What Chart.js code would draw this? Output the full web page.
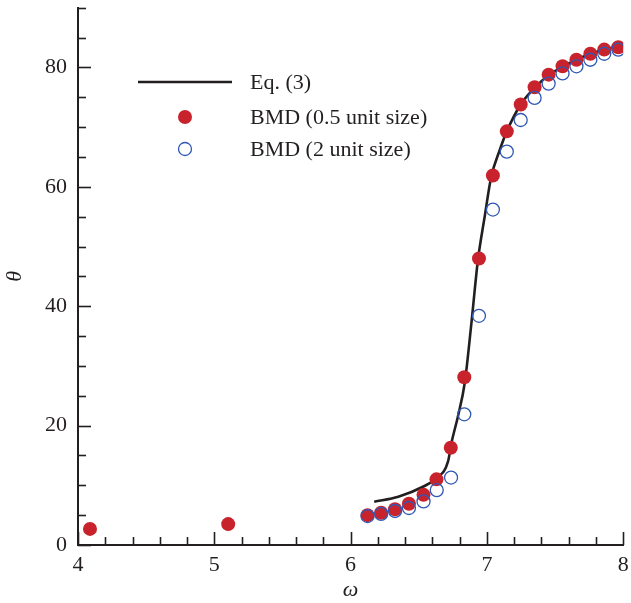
<!DOCTYPE html>
<html><head><meta charset="utf-8">
<script src="https://cdn.jsdelivr.net/npm/chart.js@4/dist/chart.umd.min.js"></script>
<style>html,body{margin:0;padding:0;background:#fff}#wrap{width:631px;height:603px}</style>
</head><body><div id="wrap"><canvas id="c" width="631" height="603"></canvas></div>
<script>
// Eq. (3) curve
const eqOmega = [6.173, 6.35, 6.535, 6.63, 6.715, 6.739, 6.787, 6.837, 6.886, 6.934, 6.983, 7.031, 7.093, 7.146, 7.248, 7.35, 7.453, 7.555, 7.657, 7.759, 7.861, 7.964];
const eqTheta = [7.25, 8.1, 9.8, 11.2, 14.0, 17.0, 21.5, 27.1, 37.1, 47.7, 54.9, 61.6, 66.1, 69.3, 73.8, 76.6, 78.7, 80.1, 81.3, 82.3, 83.0, 83.6];
// BMD (0.5 unit size)
const fineOmega = [4.088, 5.102, 6.124, 6.224, 6.326, 6.428, 6.535, 6.630, 6.735, 6.834, 6.942, 7.044, 7.146, 7.248, 7.350, 7.453, 7.555, 7.657, 7.759, 7.861, 7.964];
const fineTheta = [2.7, 3.5, 5.0, 5.4, 6.0, 6.9, 8.4, 11.0, 16.3, 28.1, 48.0, 61.9, 69.3, 73.8, 76.7, 78.8, 80.2, 81.3, 82.3, 83.0, 83.4];
// BMD (2 unit size)
const coarseOmega = [6.124, 6.224, 6.326, 6.428, 6.535, 6.632, 6.737, 6.834, 6.942, 7.044, 7.146, 7.248, 7.350, 7.453, 7.555, 7.657, 7.759, 7.861, 7.964];
const coarseTheta = [4.85, 5.2, 5.7, 6.2, 7.3, 9.2, 11.3, 21.9, 38.4, 56.2, 65.9, 71.2, 74.9, 77.3, 79.0, 80.2, 81.3, 82.3, 83.0];
const legendLabels = ["Eq. (3)", "BMD (0.5 unit size)", "BMD (2 unit size)"];

const RED = '#c8232c', BLUE = '#2f58b5', INK = '#231f20';
const FONT = '"Liberation Serif", "Times New Roman", serif';
const zip = (xs, ys) => xs.map((x, i) => ({x, y: ys[i]}));
const noPad = () => ({ left: 0, right: 0, top: 0, bottom: 0 });

const tickPlugin = {
  id: 'inTicks',
  afterDatasetsDraw(chart) {
    const ctx = chart.ctx, xs = chart.scales.x, ys = chart.scales.y;
    ctx.save();
    ctx.strokeStyle = INK;
    ctx.lineWidth = 1.6;
    const bottom = ys.getPixelForValue(0), left = xs.getPixelForValue(4);
    for (let i = 0; i <= 20; i++) {
      const v = 4 + i * 0.2;
      const p = Math.round(xs.getPixelForValue(v)) + 0.5;
      const len = (i % 5 === 0) ? 13 : 8;
      ctx.beginPath(); ctx.moveTo(p, bottom); ctx.lineTo(p, bottom - len); ctx.stroke();
    }
    for (let v = 0; v <= 90; v += 5) {
      const p = Math.round(ys.getPixelForValue(v)) + 0.5;
      const len = (v % 20 === 0) ? 13 : 8;
      ctx.beginPath(); ctx.moveTo(left, p); ctx.lineTo(left + len, p); ctx.stroke();
    }
    // legend
    ctx.font = '22px ' + FONT;
    ctx.textBaseline = 'middle';
    const tx = 250, rows = [82, 117, 149];
    ctx.lineWidth = 2.6; ctx.strokeStyle = INK;
    ctx.beginPath(); ctx.moveTo(138, rows[0]); ctx.lineTo(232, rows[0]); ctx.stroke();
    ctx.fillStyle = RED;
    ctx.beginPath(); ctx.arc(185, rows[1], 7, 0, Math.PI * 2); ctx.fill();
    ctx.strokeStyle = BLUE; ctx.lineWidth = 1.3;
    ctx.beginPath(); ctx.arc(185, rows[2], 6.5, 0, Math.PI * 2); ctx.stroke();
    ctx.fillStyle = INK;
    legendLabels.forEach((t, i) => ctx.fillText(t, tx, rows[i] + 1));
    ctx.restore();
  }
};

new Chart(document.getElementById('c'), {
  type: 'scatter',
  data: {
    datasets: [
      { label: legendLabels[0], data: zip(eqOmega, eqTheta), showLine: true, borderColor: INK, borderWidth: 2.6, pointRadius: 0, cubicInterpolationMode: 'monotone', order: 3 },
      { label: legendLabels[1], data: zip(fineOmega, fineTheta), backgroundColor: RED, borderColor: RED, borderWidth: 0, pointRadius: 7, order: 2 },
      { label: legendLabels[2], data: zip(coarseOmega, coarseTheta), backgroundColor: 'rgba(0,0,0,0)', borderColor: BLUE, borderWidth: 1.3, pointRadius: 6.5, order: 1 }
    ]
  },
  options: {
    responsive: false, animation: false, devicePixelRatio: 1,
    layout: { padding: { top: 7, right: 5, left: 0, bottom: 0 } },
    plugins: { legend: { display: false }, tooltip: { enabled: false } },
    scales: {
      x: {
        type: 'linear', min: 4, max: 8,
        grid: { display: true, drawOnChartArea: false, drawTicks: false },
        border: { display: true, color: INK, width: 2 },
        ticks: { stepSize: 1, padding: 7, color: INK, font: { family: FONT, size: 22 } },
        title: { display: true, text: 'ω', color: INK, font: { family: FONT, size: 22, style: 'italic' }, padding: { top: 0, bottom: 0 } },
        afterFit(s) { s.height = 58; s.paddingLeft = 0; s.paddingRight = 0; s.getPadding = noPad; }
      },
      y: {
        type: 'linear', min: 0, max: 90,
        grid: { display: true, drawOnChartArea: false, drawTicks: false },
        border: { display: true, color: INK, width: 2 },
        ticks: { stepSize: 20, padding: 11, color: INK, font: { family: FONT, size: 22 }, callback: v => (v % 20 === 0 && v <= 80) ? String(v) : null },
        title: { display: true, text: 'θ', color: INK, font: { family: FONT, size: 22, style: 'italic' }, padding: { top: 2, bottom: 0 } },
        afterFit(s) { s.width = 78; s.paddingTop = 0; s.paddingBottom = 0; s.getPadding = noPad; }
      }
    }
  },
  plugins: [tickPlugin]
});
</script></body></html>
